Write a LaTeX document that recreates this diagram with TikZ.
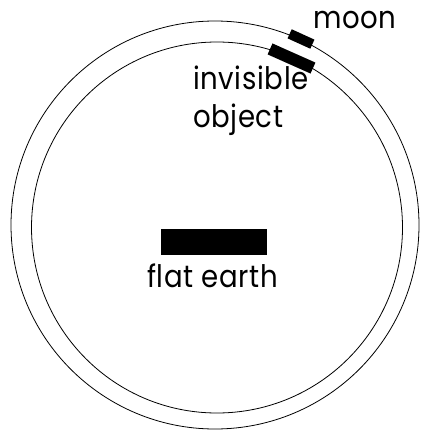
\documentclass[tikz,border=0pt]{standalone}
\usepackage{fontspec}
\setmainfont[FakeStretch=0.89,LetterSpace=2]{Poppins}
\begin{document}
\begin{tikzpicture}[x=1pt,y=-1pt,
  orbit/.style={draw=black,line width=0.8pt},
  body/.style={fill=black},
  lbl/.style={anchor=base west,inner sep=0pt,font=\fontsize{31}{33}\selectfont}]
\useasboundingbox (0,0) rectangle (421,430);
\begin{scope}
\clip (0,0) rectangle (421,430);
\draw[orbit] (215,225) circle (204);
\draw[orbit] (217,227.5) circle (185.5);
\end{scope}
\node[body,minimum width=25pt,minimum height=10pt,inner sep=0pt,rotate=-24.5] (moonbox) at (301,39) {};
\node[body,minimum width=47pt,minimum height=12pt,inner sep=0pt,rotate=-24] (invbox) at (291.5,58.5) {};
\node[body,minimum width=106pt,minimum height=26pt,inner sep=0pt] (earth) at (214,242) {};
\node[lbl] (moonlbl) at (313,29) {moon};
\node[lbl] (invlbl) at (193,90) {invisible};
\node[lbl] (objlbl) at (193,128) {object};
\node[lbl] (earthlbl) at (147,287) {flat earth};
\end{tikzpicture}
\end{document}
